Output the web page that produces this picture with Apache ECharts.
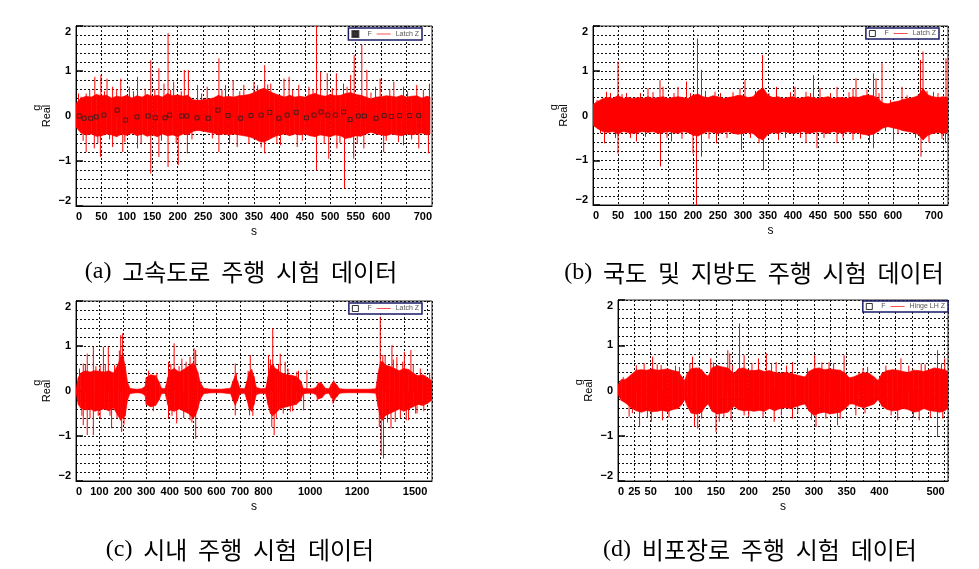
<!DOCTYPE html>
<html><head><meta charset="utf-8">
<script src="https://cdn.jsdelivr.net/npm/echarts@6/dist/echarts.min.js"></script>
<style>html,body{margin:0;padding:0;background:#fff}#c{width:979px;height:569px}</style>
</head><body><div id="c"></div>
<script>
// ---------- data ----------
// envelope of the dense signal band: [time s, lower g, upper g]
const envA = [[0,-0.25,0.28],[10,-0.38,0.40],[20,-0.42,0.44],[30,-0.40,0.42],[40,-0.45,0.48],[50,-0.44,0.45],[60,-0.40,0.46],[70,-0.42,0.40],[80,-0.46,0.44],[90,-0.40,0.42],[100,-0.43,0.46],[110,-0.38,0.40],[120,-0.44,0.45],[130,-0.40,0.42],[140,-0.45,0.48],[150,-0.42,0.44],[160,-0.46,0.46],[170,-0.40,0.42],[180,-0.44,0.50],[190,-0.42,0.45],[200,-0.46,0.47],[210,-0.40,0.44],[220,-0.42,0.46],[230,-0.34,0.36],[240,-0.32,0.35],[250,-0.34,0.36],[260,-0.36,0.38],[270,-0.38,0.40],[280,-0.42,0.46],[290,-0.40,0.42],[300,-0.42,0.44],[310,-0.40,0.42],[320,-0.42,0.45],[330,-0.44,0.46],[340,-0.46,0.48],[350,-0.50,0.52],[360,-0.56,0.58],[370,-0.58,0.62],[380,-0.52,0.55],[390,-0.46,0.50],[400,-0.42,0.46],[410,-0.40,0.42],[420,-0.44,0.46],[430,-0.40,0.42],[440,-0.42,0.44],[450,-0.40,0.42],[460,-0.44,0.47],[470,-0.46,0.50],[480,-0.42,0.46],[490,-0.44,0.44],[500,-0.46,0.48],[510,-0.42,0.45],[520,-0.44,0.46],[530,-0.50,0.50],[540,-0.48,0.52],[550,-0.44,0.48],[560,-0.45,0.46],[570,-0.40,0.42],[580,-0.36,0.38],[590,-0.40,0.42],[600,-0.42,0.43],[610,-0.44,0.45],[620,-0.40,0.44],[630,-0.42,0.42],[640,-0.44,0.46],[650,-0.40,0.42],[660,-0.42,0.44],[670,-0.40,0.45],[680,-0.38,0.40],[690,-0.42,0.44],[696,-0.40,0.42]];
const envB = [[0,-0.22,0.25],[10,-0.30,0.32],[20,-0.36,0.38],[30,-0.38,0.40],[40,-0.36,0.38],[50,-0.42,0.45],[60,-0.36,0.38],[70,-0.38,0.40],[80,-0.40,0.38],[90,-0.38,0.40],[100,-0.36,0.38],[110,-0.38,0.42],[120,-0.36,0.38],[130,-0.40,0.40],[140,-0.38,0.42],[150,-0.36,0.38],[160,-0.38,0.40],[170,-0.40,0.42],[180,-0.36,0.40],[190,-0.38,0.38],[200,-0.44,0.45],[210,-0.46,0.48],[220,-0.40,0.42],[230,-0.36,0.40],[240,-0.38,0.44],[250,-0.40,0.42],[260,-0.38,0.38],[270,-0.36,0.40],[280,-0.40,0.42],[290,-0.42,0.45],[300,-0.40,0.44],[310,-0.38,0.40],[320,-0.40,0.42],[330,-0.50,0.55],[340,-0.55,0.62],[350,-0.42,0.45],[360,-0.38,0.40],[370,-0.40,0.42],[380,-0.36,0.38],[390,-0.38,0.40],[400,-0.40,0.42],[410,-0.38,0.38],[420,-0.36,0.40],[430,-0.40,0.42],[440,-0.38,0.40],[450,-0.36,0.38],[460,-0.38,0.40],[470,-0.40,0.42],[480,-0.36,0.38],[490,-0.38,0.40],[500,-0.40,0.40],[510,-0.36,0.38],[520,-0.40,0.42],[530,-0.38,0.40],[540,-0.42,0.44],[550,-0.44,0.46],[560,-0.42,0.44],[570,-0.36,0.38],[580,-0.28,0.28],[590,-0.25,0.26],[600,-0.28,0.30],[610,-0.30,0.32],[620,-0.34,0.36],[630,-0.36,0.38],[640,-0.38,0.40],[650,-0.42,0.44],[660,-0.55,0.60],[670,-0.44,0.46],[680,-0.40,0.42],[690,-0.38,0.40],[700,-0.40,0.42],[710,-0.38,0.40]];
const envC = [[0,-0.05,0.05],[10,-0.30,0.30],[20,-0.38,0.40],[40,-0.42,0.45],[60,-0.40,0.42],[80,-0.45,0.45],[100,-0.42,0.44],[120,-0.40,0.42],[140,-0.44,0.45],[160,-0.38,0.40],[180,-0.55,0.60],[190,-0.65,0.75],[200,-0.60,0.80],[210,-0.55,0.55],[220,-0.20,0.20],[230,-0.06,0.06],[240,-0.05,0.05],[260,-0.04,0.04],[280,-0.05,0.05],[295,-0.10,0.10],[300,-0.30,0.30],[320,-0.35,0.36],[340,-0.32,0.34],[355,-0.20,0.20],[365,-0.06,0.06],[380,-0.05,0.05],[392,-0.30,0.30],[400,-0.42,0.45],[420,-0.45,0.50],[440,-0.40,0.42],[460,-0.45,0.48],[480,-0.50,0.55],[500,-0.60,0.62],[510,-0.55,0.55],[520,-0.40,0.42],[530,-0.20,0.20],[545,-0.06,0.06],[560,-0.05,0.05],[580,-0.04,0.04],[600,-0.04,0.04],[620,-0.04,0.04],[640,-0.05,0.05],[660,-0.06,0.06],[670,-0.20,0.22],[680,-0.32,0.34],[690,-0.20,0.22],[700,-0.06,0.06],[720,-0.05,0.05],[730,-0.20,0.22],[740,-0.40,0.42],[750,-0.45,0.48],[760,-0.30,0.32],[770,-0.08,0.08],[790,-0.05,0.05],[810,-0.06,0.06],[820,-0.30,0.32],[830,-0.50,0.55],[840,-0.55,0.60],[850,-0.50,0.50],[860,-0.45,0.48],[870,-0.40,0.42],[880,-0.38,0.40],[900,-0.35,0.36],[920,-0.32,0.35],[940,-0.30,0.32],[960,-0.20,0.22],[970,-0.06,0.06],[990,-0.05,0.05],[1010,-0.05,0.05],[1025,-0.08,0.08],[1035,-0.18,0.18],[1050,-0.15,0.16],[1065,-0.06,0.06],[1080,-0.05,0.05],[1090,-0.15,0.15],[1100,-0.20,0.22],[1115,-0.12,0.12],[1125,-0.05,0.05],[1150,-0.04,0.04],[1200,-0.04,0.04],[1250,-0.04,0.04],[1280,-0.05,0.05],[1290,-0.35,0.40],[1300,-0.60,0.65],[1310,-0.65,0.65],[1320,-0.55,0.58],[1340,-0.50,0.55],[1360,-0.45,0.50],[1380,-0.40,0.45],[1400,-0.45,0.50],[1420,-0.40,0.48],[1440,-0.35,0.40],[1460,-0.30,0.34],[1480,-0.32,0.36],[1500,-0.28,0.30],[1520,-0.20,0.22]];
const envD = [[0,-0.10,0.12],[5,-0.22,0.24],[12,-0.28,0.25],[20,-0.38,0.35],[28,-0.45,0.45],[36,-0.48,0.46],[44,-0.44,0.45],[52,-0.47,0.48],[60,-0.46,0.45],[68,-0.44,0.46],[76,-0.47,0.48],[84,-0.42,0.44],[92,-0.40,0.42],[98,-0.30,0.30],[102,-0.20,0.22],[106,-0.35,0.38],[112,-0.50,0.48],[120,-0.52,0.50],[128,-0.48,0.46],[134,-0.35,0.35],[138,-0.30,0.32],[144,-0.46,0.50],[152,-0.52,0.55],[160,-0.50,0.52],[168,-0.48,0.50],[174,-0.40,0.42],[178,-0.35,0.38],[184,-0.42,0.48],[192,-0.45,0.50],[200,-0.44,0.45],[208,-0.46,0.44],[216,-0.44,0.46],[224,-0.46,0.42],[232,-0.40,0.44],[240,-0.45,0.40],[248,-0.40,0.38],[256,-0.38,0.40],[264,-0.40,0.38],[272,-0.36,0.35],[280,-0.32,0.32],[286,-0.30,0.30],[292,-0.45,0.42],[300,-0.55,0.48],[308,-0.50,0.50],[316,-0.48,0.46],[324,-0.52,0.48],[332,-0.50,0.46],[340,-0.48,0.45],[348,-0.40,0.38],[354,-0.30,0.28],[360,-0.30,0.30],[368,-0.35,0.35],[376,-0.38,0.40],[384,-0.34,0.38],[392,-0.30,0.30],[398,-0.20,0.22],[404,-0.35,0.38],[412,-0.42,0.44],[420,-0.45,0.46],[428,-0.44,0.45],[436,-0.40,0.42],[444,-0.42,0.40],[452,-0.48,0.45],[460,-0.46,0.44],[468,-0.40,0.42],[476,-0.44,0.46],[484,-0.46,0.50],[492,-0.48,0.48],[500,-0.45,0.46],[505,-0.40,0.42]];

// individual peaks sticking out of the band: [time s, peak g]
const spikesA = [[10,0.43],[20,0.5],[37,0.87],[49,0.91],[61,0.83],[72,0.65],[88,0.83],[105,0.65],[121,0.87],[136,0.61],[147,1.24],[163,1.06],[173,0.72],[181,1.84],[192,0.76],[213,1.02],[221,1.02],[239,0.69],[258,0.65],[281,1.28],[294,0.69],[309,0.8],[330,0.69],[350,0.76],[371,1.13],[383,0.72],[409,0.83],[419,0.87],[438,0.69],[458,0.65],[473,2.1],[481,0.98],[494,0.95],[512,0.95],[526,0.72],[540,0.91],[547,1.35],[562,1.58],[572,1.02],[589,0.65],[598,0.83],[625,0.76],[644,0.65],[670,0.69],[695,0.72],
  [20,-0.8],[36,-0.72],[48,-0.91],[72,-0.69],[92,-0.8],[121,-0.72],[147,-1.28],[163,-0.91],[181,-1.13],[201,-1.09],[219,-0.83],[281,-0.8],[317,-0.69],[371,-0.83],[402,-0.65],[435,-0.69],[473,-1.21],[497,-0.95],[513,-0.72],[528,-1.61],[546,-0.95],[566,-0.72],[605,-0.8],[644,-0.65],[674,-0.72],[693,-0.83],
  [5,0.5],[14,-0.55],[27,0.58],[43,-0.6],[56,0.55],[66,-0.52],[80,0.6],[96,-0.58],[113,0.55],[128,-0.6],[155,0.6],[168,-0.55],[186,0.58],[197,-0.6],[207,0.55],[228,-0.52],[247,0.5],[268,-0.5],[287,0.58],[302,-0.6],[322,0.55],[340,-0.62],[357,0.68],[364,-0.7],[377,0.7],[395,-0.62],[426,0.58],[445,-0.55],[466,0.6],[488,-0.62],[504,0.62],[519,-0.6],[533,0.65],[553,-0.62],[580,0.52],[610,-0.55],[617,0.6],[634,-0.58],[652,0.55],[660,-0.52],[683,0.58]];
const spikesB = [[27,0.53],[50,1.2],[67,0.5],[110,0.61],[134,0.79],[140,0.64],[170,0.64],[187,0.76],[209,1.72],[217,1.02],[244,0.53],[294,0.61],[304,0.79],[339,1.35],[367,0.64],[404,0.64],[426,0.53],[441,0.9],[454,0.61],[488,0.64],[520,0.61],[526,0.83],[561,0.94],[566,0.83],[578,1.17],[618,0.64],[655,1.24],[660,1.43],[681,0.53],[706,1.28],
  [23,-0.62],[50,-0.85],[87,-0.58],[135,-1.14],[157,-0.58],[200,-0.85],[207,-2.1],[217,-0.92],[247,-0.62],[297,-0.77],[341,-1.22],[371,-0.55],[426,-0.62],[448,-0.73],[488,-0.62],[520,-0.55],[561,-0.73],[601,-0.58],[656,-0.92],[705,-0.62],
  [8,0.35],[15,-0.4],[35,0.5],[45,-0.5],[58,0.48],[75,-0.5],[95,0.5],[105,-0.48],[120,0.52],[148,-0.5],[162,0.5],[178,-0.52],[195,0.5],[225,0.55],[232,-0.52],[255,0.5],[268,-0.5],[280,0.52],[315,-0.5],[325,0.55],[332,-0.62],[352,0.5],[385,-0.5],[395,0.52],[415,-0.5],[435,0.5],[462,-0.5],[475,0.5],[500,-0.5],[512,0.52],[535,-0.52],[548,0.58],[553,-0.6],[572,0.5],[585,-0.35],[595,0.35],[610,-0.4],[628,0.45],[645,-0.5],[668,0.55],[672,-0.6],[690,0.5],[698,-0.52]];
const spikesC = [[31,0.61],[48,0.83],[74,0.98],[103,0.57],[117,0.98],[138,0.98],[191,1.24],[199,1.28],[316,0.35],[395,0.65],[419,1.06],[452,0.72],[487,0.76],[504,0.95],[511,0.91],[680,0.61],[744,0.8],[822,0.8],[840,1.39],[872,0.83],[893,0.65],[943,0.43],[986,0.46],[1043,0.2],[1100,0.24],[1299,1.65],[1320,0.8],[1349,1.02],[1370,0.76],[1402,0.87],[1430,0.91],[1491,0.35],
  [31,-0.76],[48,-0.98],[74,-0.98],[103,-0.61],[152,-0.83],[195,-0.91],[316,-0.35],[395,-0.61],[430,-0.72],[487,-0.65],[511,-1.06],[680,-0.54],[741,-0.54],[836,-0.8],[846,-0.98],[915,-0.46],[972,-0.43],[1097,-0.28],[1303,-1.43],[1313,-1.5],[1345,-0.83],[1363,-0.69],[1420,-0.65],[1456,-0.5],
  [15,0.5],[25,-0.55],[40,0.6],[60,-0.6],[85,0.55],[95,-0.55],[125,0.6],[145,-0.55],[165,0.58],[175,-0.6],[185,0.9],[205,-0.75],[310,0.45],[330,-0.45],[345,0.4],[405,0.6],[410,-0.55],[440,0.55],[460,-0.6],[470,0.65],[495,-0.7],[685,0.4],[735,0.45],[755,-0.55],[830,0.7],[855,-0.6],[865,0.6],[885,-0.5],[905,0.5],[925,-0.45],[950,0.45],[1030,-0.22],[1045,0.2],[1105,-0.22],[1295,-0.8],[1310,0.8],[1330,-0.7],[1355,0.7],[1385,-0.6],[1395,0.65],[1410,-0.65],[1440,0.6],[1450,-0.5],[1470,0.5],[1485,-0.45],[1510,0.4]];
const spikesD = [[28,0.56],[53,0.75],[66,0.56],[94,0.52],[114,0.75],[124,0.52],[142,0.71],[150,0.52],[168,0.89],[171,0.82],[186,1.48],[193,0.78],[215,0.71],[227,0.82],[242,0.63],[267,0.63],[301,0.78],[323,0.63],[346,0.78],[369,0.41],[382,0.52],[433,0.71],[464,0.6],[489,0.89],[500,0.71],
  [17,-0.58],[33,-0.8],[51,-0.69],[68,-0.66],[117,-0.8],[122,-0.84],[150,-0.92],[155,-0.69],[173,-0.66],[193,-0.55],[239,-0.69],[267,-0.62],[303,-0.8],[336,-0.77],[340,-0.62],[364,-0.55],[428,-0.66],[461,-0.66],[489,-1.03],[497,-0.62],
  [8,0.3],[22,-0.5],[40,0.6],[45,-0.6],[60,0.58],[78,-0.6],[88,0.55],[110,0.6],[128,-0.62],[146,0.62],[162,-0.6],[175,0.55],[200,-0.58],[205,0.6],[222,-0.6],[235,0.6],[250,-0.55],[258,0.55],[275,-0.5],[290,0.5],[296,-0.65],[312,0.62],[318,-0.62],[330,0.6],[352,-0.35],[375,0.5],[378,-0.5],[410,0.55],[418,-0.55],[445,0.55],[452,-0.6],[470,0.58],[478,-0.6],[495,0.6]];

// "F" markers in panel (a): [time s, g]
const squaresA = [[6.5,0],[16,-0.05],[29,-0.05],[40,-0.02],[55,0.02],[81,0.13],[97,-0.09],[120,-0.02],[142,0],[156,-0.04],[175,-0.04],[184,0.02],[208,0],[218,0],[238,-0.04],[260,-0.05],[279,0.13],[299,0.01],[324,-0.05],[344,0.01],[364,0.02],[381,0.08],[399,-0.05],[415,0.02],[433,0.08],[453,-0.04],[468,0.02],[482,0.09],[495,0.02],[510,0.02],[526,0.09],[539,-0.08],[555,0],[567,0],[590,-0.05],[606,0.01],[620,-0.01],[636,0.01],[656,0.01],[674,0.01]];

// axes / tick labels
const xMax = [700, 710, 1520, 505];
const xStep = [50, 50, 100, 25];
const xLabelsA = [0,50,100,150,200,250,300,350,400,450,500,550,600,700];
const xLabelsB = [0,50,100,150,200,250,300,350,400,450,500,550,600,700];
const xLabelsC = [0,100,200,300,400,500,600,700,800,1000,1200,1500];
const xLabelsD = [0,25,50,100,150,200,250,300,350,400,500];
const yLabels = [-2,-1,0,1,2];
const seriesNames = ['Latch Z','Latch Z','Latch Z','Hinge LH Z'];
const captions = [
  ['(a)','고속도로  주행  시험  데이터'],
  ['(b)','국도  및  지방도  주행  시험  데이터'],
  ['(c)','시내  주행  시험  데이터'],
  ['(d)','비포장로  주행  시험  데이터']
];

// ---------- layout ----------
const grids = [
  {left:76, top:26, width:356, height:180},
  {left:593, top:26, width:355, height:179},
  {left:76, top:301, width:356, height:180},
  {left:618, top:300, width:330, height:181}
];
const legendPos = [{right:557, top:28},{right:40, top:28},{right:557, top:303},{right:31, top:301}];
const captionPos = [[241,272],[754,273],[240,550],[760,550]];

const envs = [envA, envB, envC, envD];
const spikes = [spikesA, spikesB, spikesC, spikesD];
const xLabels = [xLabelsA, xLabelsB, xLabelsC, xLabelsD];
const RED = '#ff0000';
const dash = {type:[2,2], color:'#111', width:1};
const fmtY = v => v < 0 ? '\u2212' + Math.abs(v) : String(v);
const fmtX = v => String(v);

const xAxes = [], yAxes = [], series = [], legends = [];
const lineIcon = 'path://M0,0H40V2H0Z';
const sqIcon = 'path://M0,0H10V10H0Z';

for (let i = 0; i < 4; i++) {
  xAxes.push({
    type:'value', gridIndex:i, min:0, max:xMax[i], interval:xStep[i],
    name:'s', nameLocation:'middle', nameGap:20,
    nameTextStyle:{fontSize:12, color:'#000', fontFamily:'Liberation Sans'},
    axisLine:{show:true, onZero:false, lineStyle:{color:'#000', width:1}},
    axisTick:{show:false},
    axisLabel:{customValues:xLabels[i], formatter:fmtX, fontSize:11, fontWeight:'bold', color:'#000', margin:5,
      fontFamily:'Liberation Sans', alignMinLabel:'left', alignMaxLabel:'right', hideOverlap:false},
    splitLine:{show:true, lineStyle:dash}
  });
  yAxes.push({
    type:'value', gridIndex:i, min:-2, max:2, interval:0.2,
    name:'{g|g}\n{r|Real}', nameLocation:'middle', nameRotate:90, nameGap:24,
    nameTextStyle:{fontSize:11, color:'#000', fontFamily:'Liberation Sans', lineHeight:10,
      rich:{g:{align:'right', fontSize:11, lineHeight:10, fontFamily:'Liberation Sans'},
            r:{fontSize:11, lineHeight:10, fontFamily:'Liberation Sans'}}},
    axisLine:{show:true, onZero:false, lineStyle:{color:'#000', width:1}},
    axisTick:{show:false},
    axisLabel:{customValues:yLabels, formatter:fmtY, fontSize:11, fontWeight:'bold', color:'#000', margin:5,
      fontFamily:'Liberation Sans', verticalAlignMinLabel:'bottom', verticalAlignMaxLabel:'top'},
    splitLine:{show:true, lineStyle:dash}
  });
  const env = envs[i];
  series.push({
    type:'custom', name:seriesNames[i], xAxisIndex:i, yAxisIndex:i, clip:true, silent:true,
    itemStyle:{color:RED}, data:env, z:3,
    renderItem:function(params, api){
      const k = params.dataIndex;
      if (k >= env.length - 1) return null;
      const a = env[k], b = env[k+1];
      const pts = [api.coord([a[0],a[2]]), api.coord([b[0],b[2]]), api.coord([b[0],b[1]]), api.coord([a[0],a[1]])];
      return {type:'polygon', shape:{points:pts}, style:{fill:RED, stroke:RED, lineWidth:0.6}};
    }
  });
  series.push({
    type:'custom', name:seriesNames[i], xAxisIndex:i, yAxisIndex:i, clip:true, silent:true,
    itemStyle:{color:RED}, data:spikes[i], z:3,
    renderItem:function(params, api){
      const p0 = api.coord([api.value(0), 0]);
      const p1 = api.coord([api.value(0), api.value(1)]);
      return {type:'line', shape:{x1:p0[0], y1:p0[1], x2:p1[0], y2:p1[1]}, style:{stroke:RED, lineWidth:1}};
    }
  });
  legends.push(Object.assign({
    orient:'horizontal', padding:[2,3], itemGap:5, itemWidth:14, itemHeight:6,
    borderColor:'#1b1b66', borderWidth:1.5, backgroundColor:'#fff', selectedMode:false,
    textStyle:{fontSize:7, color:'#555', fontFamily:'Liberation Sans'},
    data:[
      {name:'F', icon:sqIcon, itemStyle: i === 0 ? {color:'#000'} : {color:'#fff', borderColor:'#000', borderWidth:1}},
      {name:seriesNames[i], icon:lineIcon, itemStyle:{color:RED}}
    ]
  }, legendPos[i]));
}
// inner integer ticks on the left axis (separate axes so the 0.2 grid stays)
for (let i = 0; i < 4; i++) {
  yAxes.push({
    type:'value', gridIndex:i, min:-2, max:2, position:'left',
    axisLine:{show:false}, axisLabel:{show:false}, splitLine:{show:false},
    axisTick:{show:true, inside:true, length:7, customValues:yLabels, lineStyle:{color:'#000', width:1.5}}
  });
}
series.push({
  type:'scatter', name:'F', xAxisIndex:0, yAxisIndex:0, data:squaresA, z:5,
  symbol:'rect', symbolSize:4, silent:true,
  itemStyle:{color:'rgba(0,0,0,0)', borderColor:'#222', borderWidth:1}
});

const graphic = captions.map((c, i) => ({
  type:'text', x:captionPos[i][0], y:captionPos[i][1], silent:true,
  style:{
    text:'{p|' + c[0] + '}  {k|' + c[1] + '}',
    align:'center', verticalAlign:'middle', fill:'#000',
    fontSize:24, fontFamily:'Noto Sans CJK KR',
    rich:{
      p:{fontSize:24, fontFamily:'Liberation Serif', fill:'#000'},
      k:{fontSize:24, fontFamily:'Noto Sans CJK KR', fill:'#000'}
    }
  }
}));

const chart = echarts.init(document.getElementById('c'), null, {renderer:'canvas'});
chart.setOption({
  animation:false,
  backgroundColor:'#fff',
  grid:grids.map(g => Object.assign({show:true, borderColor:'#222', borderWidth:1, backgroundColor:'transparent'}, g)),
  xAxis:xAxes, yAxis:yAxes, legend:legends, series:series, graphic:graphic
});
</script></body></html>
